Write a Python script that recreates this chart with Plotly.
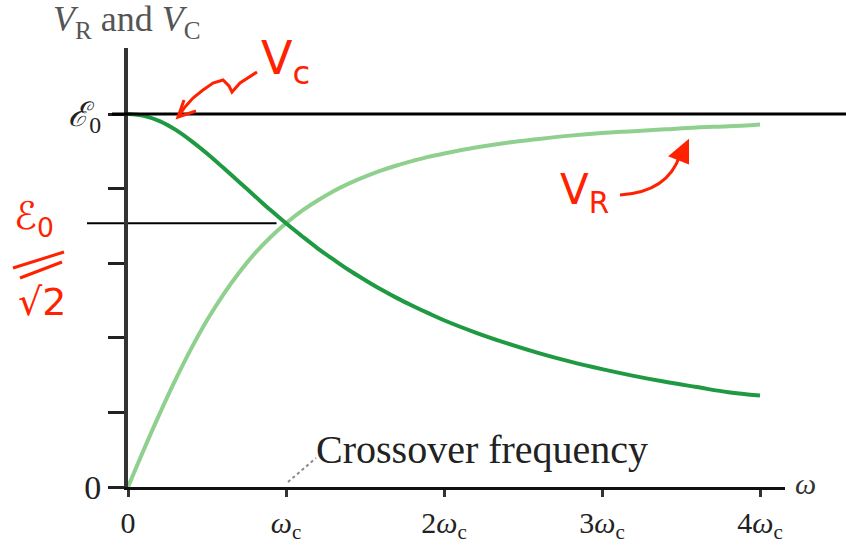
import plotly.graph_objects as go

# ---- data ----
omega = [0.0, 0.1, 0.2, 0.3, 0.4, 0.5, 0.6, 0.7, 0.8, 0.9, 1.0, 1.1, 1.2, 1.3, 1.4,
         1.5, 1.6, 1.7, 1.8, 1.9, 2.0, 2.2, 2.4, 2.6, 2.8, 3.0, 3.2, 3.4, 3.6, 3.8, 4.0]
v_c = [1.000, 0.995, 0.981, 0.958, 0.928, 0.894, 0.857, 0.819, 0.781, 0.743, 0.707,
       0.673, 0.640, 0.610, 0.581, 0.555, 0.530, 0.507, 0.486, 0.466, 0.447, 0.414,
       0.385, 0.359, 0.336, 0.316, 0.298, 0.282, 0.268, 0.254, 0.245]
v_r = [0.000, 0.100, 0.196, 0.287, 0.371, 0.447, 0.514, 0.573, 0.625, 0.669, 0.707,
       0.740, 0.768, 0.793, 0.814, 0.832, 0.848, 0.862, 0.874, 0.885, 0.894, 0.910,
       0.923, 0.933, 0.942, 0.949, 0.954, 0.959, 0.964, 0.967, 0.972]
x_tickvals = [0, 1, 2, 3, 4]
x_ticktext = ["0", "<i>ω</i><sub>c</sub>", "2<i>ω</i><sub>c</sub>",
              "3<i>ω</i><sub>c</sub>", "4<i>ω</i><sub>c</sub>"]
y_tickvals = [0, 0.2, 0.4, 0.6, 0.8, 1.0]
y_ticktext = ["0", "", "", "", "", "<i>ℰ</i><sub>0</sub>"]
E0 = 1.0
crossover = 1.0
E0_over_root2 = 0.707

W, H = 846, 547
XDOM = [128 / W, 785 / W]
YDOM = [(H - 487) / H, (H - 48) / H]
XR = [0, (785 - 128) / 158]
YR = [0, (487 - 48) / 373]


def px(x):
    return x / W


def py(y):
    return 1 - y / H


def dx(v):
    return XDOM[0] + (v - XR[0]) / (XR[1] - XR[0]) * (XDOM[1] - XDOM[0])


def dy(v):
    return YDOM[0] + (v - YR[0]) / (YR[1] - YR[0]) * (YDOM[1] - YDOM[0])


SERIF = "Liberation Serif, Times New Roman, serif"
RED = "#ff2200"

fig = go.Figure()
fig.add_trace(go.Scatter(x=omega, y=v_r, mode="lines",
                         line=dict(color="#8fd08f", width=4, shape="spline"),
                         hoverinfo="skip", showlegend=False))
fig.add_trace(go.Scatter(x=omega, y=v_c, mode="lines",
                         line=dict(color="#1f9a42", width=4, shape="spline"),
                         hoverinfo="skip", showlegend=False))

shapes = []
# E0 reference line
shapes.append(dict(type="line", xref="paper", yref="paper",
                   x0=px(112), x1=1.0, y0=dy(E0), y1=dy(E0),
                   line=dict(color="black", width=3), layer="above"))
# E0/sqrt2 line
shapes.append(dict(type="line", xref="paper", yref="paper",
                   x0=px(87), x1=dx(0.94), y0=dy(E0_over_root2), y1=dy(E0_over_root2),
                   line=dict(color="black", width=2), layer="below"))
# crossover leader (dotted)
shapes.append(dict(type="line", xref="paper", yref="paper",
                   x0=dx(crossover) + 2 / W, y0=dy(0) + 5 / H, x1=px(316), y1=py(458),
                   line=dict(color="#888888", width=2, dash="dot")))


def path_px(pts):
    s = "M %.5f %.5f" % (px(pts[0][0]), py(pts[0][1]))
    for p in pts[1:]:
        s += " L %.5f %.5f" % (px(p[0]), py(p[1]))
    return s


# red squiggly arrow toward V_C
squig = [(257, 72), (240, 83), (232, 92), (229, 86), (223, 80), (213, 83),
         (203, 90), (193, 98), (185, 107), (178, 117)]
shapes.append(dict(type="path", xref="paper", yref="paper", path=path_px(squig),
                   line=dict(color=RED, width=3)))
shapes.append(dict(type="path", xref="paper", yref="paper",
                   path=path_px([(196, 111), (178, 117), (184, 100)]),
                   line=dict(color=RED, width=3)))
# red curved arrow toward V_R
shapes.append(dict(type="path", xref="paper", yref="paper",
                   path="M %.5f %.5f Q %.5f %.5f %.5f %.5f" % (
                       px(620), py(195), px(668), py(192), px(680), py(155)),
                   line=dict(color=RED, width=3)))
shapes.append(dict(type="path", xref="paper", yref="paper",
                   path=path_px([(670, 156), (688, 141), (688, 163)]) + " Z",
                   line=dict(color=RED, width=2), fillcolor=RED))
# fraction bar of E0/sqrt2
shapes.append(dict(type="line", xref="paper", yref="paper",
                   x0=px(13), y0=py(268), x1=px(64), y1=py(252),
                   line=dict(color=RED, width=3)))
shapes.append(dict(type="line", xref="paper", yref="paper",
                   x0=px(20), y0=py(278), x1=px(62), y1=py(262),
                   line=dict(color=RED, width=3)))


def ann(x, y, text, font):
    return dict(x=px(x), y=py(y), xref="paper", yref="paper", showarrow=False,
                xanchor="center", yanchor="middle", text=text, font=font)


annotations = [
    ann(127, 22, "<i>V</i><sub>R</sub> and <i>V</i><sub>C</sub>",
        dict(family=SERIF, size=36, color="#555555")),
    ann(805, 483, "<i>ω</i>", dict(family=SERIF, size=30, color="#333333")),
    ann(482, 449, "Crossover frequency", dict(family=SERIF, size=40, color="#222222")),
    ann(285, 62, "V<sub>c</sub>", dict(family="DejaVu Sans", size=46, color=RED)),
    ann(584, 192, "V<sub>R</sub>", dict(family="DejaVu Sans", size=42, color=RED)),
    ann(34, 218, "ℰ<sub>0</sub>", dict(family="DejaVu Sans", size=38, color=RED)),
    ann(42, 302, "√2", dict(family="DejaVu Sans", size=38, color=RED)),
]

fig.update_layout(
    template="none",
    width=W, height=H, margin=dict(l=0, r=0, t=0, b=0, autoexpand=False),
    paper_bgcolor="white", plot_bgcolor="white",
    xaxis=dict(domain=XDOM, range=XR, showgrid=False, zeroline=False, automargin=False,
               showline=True, linecolor="#111111", linewidth=3,
               ticks="outside", ticklen=7, tickwidth=2.5, tickcolor="#333333",
               tickvals=x_tickvals, ticktext=x_ticktext,
               tickfont=dict(family=SERIF, size=30, color="#222222")),
    yaxis=dict(domain=YDOM, range=YR, showgrid=False, zeroline=False, automargin=False,
               showline=True, linecolor="#333333", linewidth=4,
               ticks="outside", ticklen=16, tickwidth=3, tickcolor="#222222",
               tickvals=y_tickvals, ticktext=y_ticktext,
               tickfont=dict(family=SERIF, size=34, color="#222222")),
    shapes=shapes, annotations=annotations, showlegend=False,
)

fig.write_html("out.html")
